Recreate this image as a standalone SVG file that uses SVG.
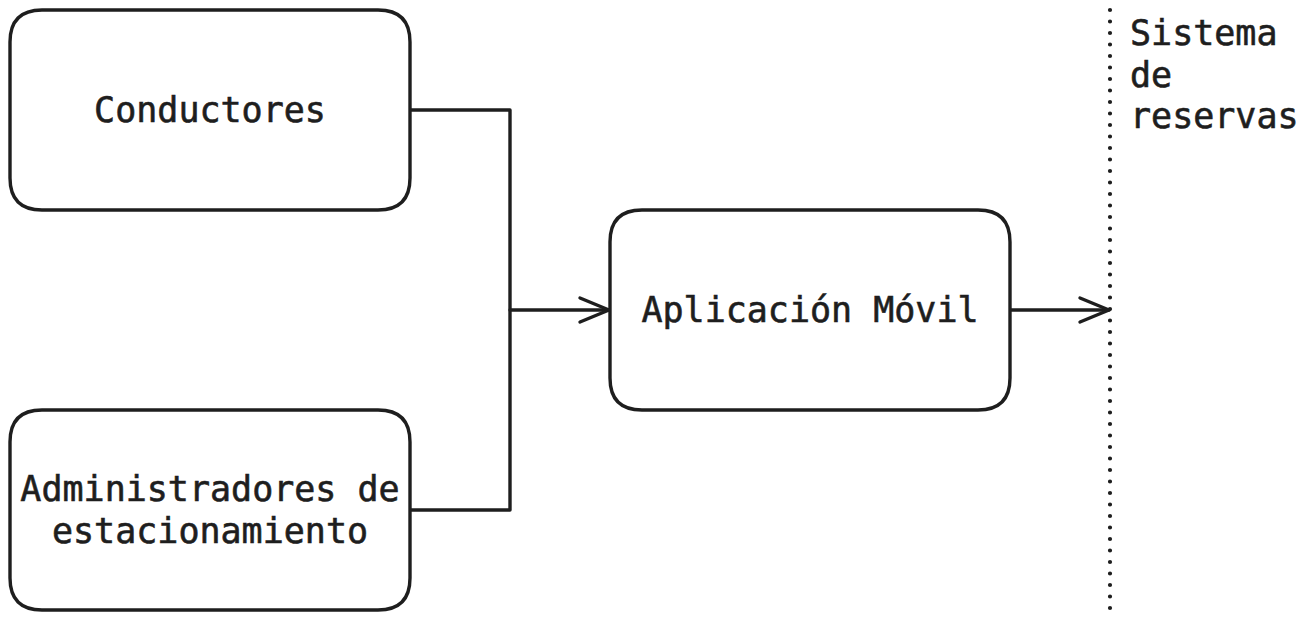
<svg xmlns="http://www.w3.org/2000/svg" width="1308" height="620" viewBox="0 0 1308 620">
<style>
.box{fill:#ffffff;stroke:#1e1e1e;stroke-width:3.4;stroke-linejoin:round}
.lbl{font-family:"DejaVu Sans Mono","Liberation Mono",monospace;font-size:35px;fill:#1e1e1e;stroke:#1e1e1e;stroke-width:0.6}
.mid{text-anchor:middle}
.ln{fill:none;stroke:#1e1e1e;stroke-width:3.4;stroke-linecap:round;stroke-linejoin:round}
</style>
<rect width="1308" height="620" fill="#ffffff"/>
<g id="connectors">
<path class="ln" d="M410 110 H510 V510 H410"/>
<path class="ln" d="M510 310 H609"/>
<path class="ln" d="M580 298 L609 310 L580 322"/>
<path class="ln" d="M1010 310 H1109"/>
<path class="ln" d="M1080 298 L1109 310 L1080 322"/>
</g>
<g id="boundary">
<line x1="1110" y1="10" x2="1110" y2="610" stroke="#1e1e1e" stroke-width="4.2" stroke-linecap="round" stroke-dasharray="0 11.5"/>
<text class="lbl" x="1130" y="45">Sistema</text>
<text class="lbl" x="1130" y="87">de</text>
<text class="lbl" x="1130" y="128">reservas</text>
</g>
<g id="conductores">
<path class="box" d="M42 10 H378 Q410 10 410 42 V178 Q410 210 378 210 H42 Q10 210 10 178 V42 Q10 10 42 10 Z"/>
<text class="lbl mid" x="210" y="122">Conductores</text>
</g>
<g id="administradores">
<path class="box" d="M42 410 H378 Q410 410 410 442 V578 Q410 610 378 610 H42 Q10 610 10 578 V442 Q10 410 42 410 Z"/>
<text class="lbl mid" x="210" y="501">Administradores de</text>
<text class="lbl mid" x="210" y="543">estacionamiento</text>
</g>
<g id="aplicacion">
<path class="box" d="M642 210 H978 Q1010 210 1010 242 V378 Q1010 410 978 410 H642 Q610 410 610 378 V242 Q610 210 642 210 Z"/>
<text class="lbl mid" x="810" y="322">Aplicación Móvil</text>
</g>
</svg>
